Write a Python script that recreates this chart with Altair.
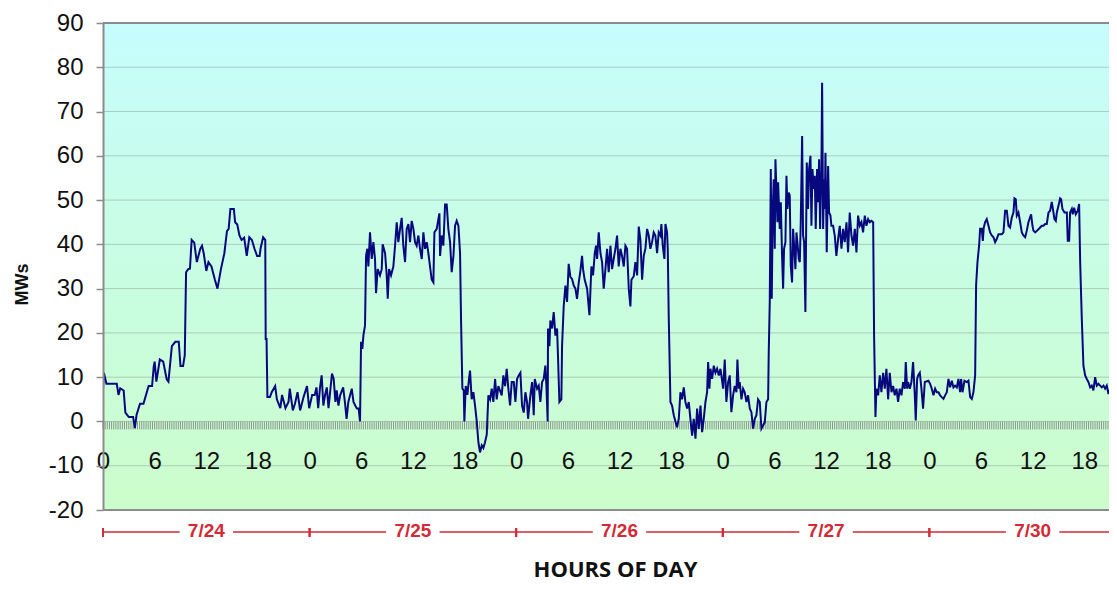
import altair as alt
import pandas as pd

# ---------------- data (hour since 7/24 00:00, MW) ----------------
hours_d1 = [0.0, 0.1, 0.4, 1.6, 1.8, 2.0, 2.4, 2.6, 2.8, 3.0, 3.5, 3.7, 3.9, 4.3, 4.7, 5.3, 5.7, 5.9, 6.0, 6.2,
            6.6, 7.0, 7.4, 7.6, 8.0, 8.4, 8.8, 9.0, 9.3, 9.5, 9.65, 9.9, 10.1, 10.3, 10.6, 10.9, 11.3, 11.5, 11.7,
            12.0, 12.25, 12.6, 13.0, 13.3, 13.7, 14.1, 14.4, 14.6, 14.8, 15.2, 15.35, 15.6, 15.85, 16.1, 16.4,
            16.7, 17.0, 17.3, 17.6, 17.9, 18.2, 18.3, 18.6, 18.85, 18.9, 19.0, 19.1, 19.4, 19.6, 20.0, 20.2, 20.6,
            20.8, 21.2, 21.55, 21.7, 22.05, 22.3, 22.6, 22.9, 23.3, 23.7, 23.95, 24.3]
mw_d1 = [7, 11, 8.5, 8.5, 6, 7.5, 7, 2, 1.5, 1, 1, -1.5, 1.5, 4, 4, 8, 8, 12.5, 13.5, 9,
         14, 13.5, 9.5, 9, 17, 18, 18, 12.5, 12.5, 15, 33.7, 34.4, 34.5, 41, 40.4, 36, 39, 39.7, 38,
         34, 36, 35, 32, 30, 34.4, 38, 43, 43.5, 48, 48, 45, 44.5, 42, 41, 41.5,
         37.4, 41.6, 41, 39, 37.4, 37.4, 39, 41.6, 41, 18.6, 18.6, 5.5, 5.5, 6.6, 8, 5, 3,
         6, 3, 4.4, 7.4, 2.5, 4, 6.6, 2.5, 5.5, 8, 3, 6]

hours_d2 = [24.6, 24.8, 25.0, 25.2, 25.4, 25.6, 25.8, 26.0, 26.2, 26.6, 26.8, 27.0, 27.15, 27.35, 27.55, 27.9,
            28.1, 28.3, 28.5, 28.9, 29.1, 29.3, 29.5, 29.7, 29.86, 29.98, 30.13, 30.25, 30.44, 30.56, 30.71,
            30.83, 31.02, 31.22, 31.41, 31.6, 31.72, 31.91, 32.18, 32.38, 32.49, 32.77, 32.96, 33.08, 33.23,
            33.46, 33.73, 33.93, 34.12, 34.31, 34.51, 34.7, 34.89, 35.09, 35.28, 35.48, 35.67, 35.86, 36.06,
            36.25, 36.44, 36.64, 36.83, 37.03, 37.22, 37.41, 37.61, 37.8, 37.99, 38.19, 38.38, 38.5, 38.77,
            38.96, 39.08, 39.16, 39.35, 39.54, 39.74, 39.93, 40.12, 40.32, 40.51, 40.71, 40.9, 41.09, 41.29,
            41.48, 41.6, 41.75, 41.91, 41.98, 42.14, 42.33, 42.52, 42.64, 42.83, 43.03, 43.22, 43.42, 43.61,
            43.8, 44.0, 44.19, 44.38, 44.58, 44.77, 44.97, 45.16, 45.35, 45.55, 45.74, 45.93, 46.32, 46.51,
            46.71, 46.9, 47.09, 47.29, 47.48]
mw_d2 = [6, 7.7, 3, 7.4, 10.4, 3.6, 6, 7.7, 3, 10.8, 9.6, 4.4, 7, 3.6, 5.9, 7.7,
         4.4, 0.6, 4.4, 7.4, 4.4, 3.6, 2.9, 2.9, 0, 18, 16.4, 19.4, 21.7, 37.4, 39,
         35, 42.7, 36.7, 40.5, 36.7, 29, 34.4, 33, 34.4, 40, 38, 33, 27.7, 34.4,
         33, 35, 39.7, 45, 40.5, 43.5, 46, 39.7, 36, 43.5, 44.6, 40.5, 45.3, 43.5,
         40.5, 39.7, 42, 39, 36.7, 42.7, 39, 40.5, 38, 35, 32, 31.4, 42.7, 43.5,
         45.7, 47, 37.4, 42, 39.7, 49, 49, 43.5, 40.5, 33.7, 37.4, 44.2, 45.3, 44.2,
         38, 22.4, 7.4, 7, 0, 8, 6, 9.6, 11.5, 5, 6.6, 3.6, 0, -4.7,
         -7, -5.4, -6, -4.7, -3, 5.9, 5, 7.4, 4.4, 9.6, 5, 8, 5.9, 10.4,
         8, 11.9, 7.4, 3.6, 8.9]

hours_d3 = [47.72, 47.91, 48.1, 48.3, 48.49, 48.68, 48.88, 49.07, 49.26, 49.38, 49.65, 49.85, 50.04, 50.16,
            50.43, 50.62, 50.81, 51.01, 51.2, 51.39, 51.51, 51.66, 51.7, 51.86, 51.97, 52.17, 52.36, 52.56,
            52.75, 52.87, 53.02, 53.25, 53.33, 53.52, 53.72, 53.91, 54.1, 54.3, 54.49, 54.69, 54.88, 55.07,
            55.27, 55.46, 55.65, 55.77, 55.96, 56.24, 56.51, 56.74, 56.93, 57.13, 57.28, 57.4, 57.59, 57.79,
            57.98, 58.17, 58.37, 58.56, 58.75, 58.95, 59.14, 59.33, 59.53, 59.72, 59.91, 60.11, 60.3, 60.5,
            60.69, 60.88, 61.08, 61.27, 61.39, 61.66, 61.85, 62.05, 62.24, 62.43, 62.63, 62.82, 63.01, 63.21,
            63.4, 63.59, 63.79, 63.98, 64.17, 64.37, 64.56, 64.76, 64.87, 65.03, 65.22, 65.34, 65.53, 65.61,
            65.72, 65.92, 66.11, 66.31, 66.5, 66.69, 66.89, 67.08, 67.27, 67.47, 67.66, 67.86, 68.05, 68.24,
            68.44, 68.63, 68.83, 69.02, 69.21, 69.41, 69.6, 69.79, 69.99, 70.18, 70.3, 70.45, 70.57, 70.76,
            70.96, 71.15, 71.34, 71.54, 71.73]
mw_d3 = [8.9, 4.4, 9.6, 10.4, 11, 3.6, 2, 6.6, 4.4, 0.6, 5.9, 8.9, 1.4, 9.6,
         7.4, 8.1, 4.4, 8.9, 9.6, 12.6, 8.1, 0, 21, 17, 22.8, 21, 24.7, 19.4,
         21, 14, 4.4, 5, 17, 26, 30.7, 27, 35.6, 32.6, 32.2, 30.7, 30, 27.7,
         31.4, 34, 37.4, 34.4, 32, 30, 24, 35, 33, 38, 39.7, 36.7, 42.7, 38,
         36, 30, 34.4, 39, 33.7, 39.7, 34.4, 36.7, 39, 42, 35, 39, 37.4, 35,
         39.7, 39, 30, 26, 32, 32.8, 36, 33, 44, 41, 32, 37.4, 39, 43.5,
         42, 39, 40.5, 42.7, 42, 38, 42.7, 42, 44.6, 39.7, 36.7, 44.6, 42.7, 39,
         24, 4.4, 3.6, 1.4, 0, -1.3, 0.6, 6.6, 5, 7.7, 4.4, 2.9, 4.4, 0.6,
         -3.2, 0.6, -3.9, 2.9, -1.7, 3.6, -2.4, 0.6, 4.4, 6.6, 13.4, 7.4, 11.9, 9.6,
         12.6, 11, 11.9, 10.4, 11.9]

hours_d4 = [71.84, 72.04, 72.23, 72.42, 72.62, 72.81, 73.0, 73.2, 73.39, 73.59, 73.7, 73.86, 73.97, 74.17,
            74.36, 74.55, 74.75, 74.94, 75.14, 75.33, 75.52, 75.72, 75.91, 76.1, 76.3, 76.49, 76.68, 76.88,
            77.07, 77.27, 77.34, 77.46, 77.58, 77.69, 77.81, 77.92, 78.04, 78.12, 78.23, 78.35, 78.43, 78.62,
            78.74, 78.89, 79.01, 79.12, 79.28, 79.4, 79.51, 79.67, 79.78, 79.9, 80.05, 80.17, 80.29, 80.44,
            80.56, 80.67, 80.83, 80.95, 81.06, 81.22, 81.33, 81.45, 81.6, 81.76, 81.91, 82.03, 82.19, 82.3,
            82.42, 82.57, 82.69, 82.8, 82.96, 83.08, 83.19, 83.31, 83.46, 83.54, 83.66, 83.77, 83.85, 83.93,
            84.08, 84.24, 84.35, 84.51, 84.62, 84.82, 85.01, 85.2, 85.4, 85.59, 85.79, 85.98, 86.17, 86.37,
            86.56, 86.75, 86.95, 87.14, 87.34, 87.53, 87.72, 87.92, 88.11, 88.3, 88.5, 88.69, 88.89, 89.08,
            89.27, 89.47, 89.58, 89.74, 89.85, 90.05, 90.24, 90.43, 90.63, 90.82, 91.01, 91.21, 91.4, 91.6,
            91.79, 91.98, 92.18, 92.37, 92.56, 92.76, 92.95, 93.15, 93.26, 93.42, 93.53, 93.73, 93.92, 94.11,
            94.31, 94.42, 94.58, 94.69, 94.89, 95.08, 95.27, 95.47]
mw_d4 = [10.4, 7.4, 14, 4.4, 8.9, 10.4, 2.1, 5.9, 8, 6.6, 14, 7.4, 8.9, 5,
         7.4, 6.6, 4.4, 5.9, 2.9, 2.1, -1.6, 0.6, 1.4, 5, 4.4, -1.6, -0.9, -0.2,
         4.4, 5, 15.6, 27, 57, 27.7, 48, 54.7, 39, 59.2, 52.5, 45, 54, 43.5,
         49.5, 37.4, 30, 39, 40.5, 55.5, 48, 51.7, 51, 35.2, 31.4, 43.5, 39.7, 34.4,
         42.7, 40.5, 36.7, 36, 45, 64.5, 42, 40.5, 24.7, 58.5, 48, 57, 60, 44.2,
         57, 52.5, 55.5, 43.5, 57, 49.5, 59.2, 43.5, 57, 76.5, 43.5, 54.7, 48, 60.7,
         38.2, 57.7, 47.2, 46.5, 44.2, 44.2, 42, 37.4, 41.2, 44.2, 39, 43.5, 40.5, 45,
         38.2, 47.2, 42, 39.7, 43.5, 38.2, 46.5, 44.2, 45, 42.7, 46.5, 44.2, 45.7, 45,
         45.3, 45, 19.4, 1, 7.4, 5.9, 10.4, 6.6, 11, 7.4, 11.9, 5, 11, 6.6,
         8, 5.9, 7.4, 4.4, 7.4, 5.9, 8.9, 7.4, 13.4, 7.4, 8.9, 7.4, 8.9, 13.4,
         5.9, 0.2, 9.6, 10.4, 11, 7.4, 2.9, 8.9]

hours_d5 = [95.89, 96.09, 96.28, 96.48, 96.67, 96.86, 97.06, 97.25, 97.44, 97.64, 97.83, 98.03, 98.22, 98.41,
            98.61, 98.8, 98.99, 99.19, 99.38, 99.57, 99.69, 99.85, 100.08, 100.35, 100.54, 100.74, 100.93,
            101.12, 101.32, 101.43, 101.59, 101.78, 101.9, 102.09, 102.21, 102.32, 102.48, 102.67, 102.87,
            103.06, 103.25, 103.45, 103.64, 103.83, 104.03, 104.42, 104.61, 104.8, 105.0, 105.19, 105.38,
            105.58, 105.77, 105.89, 106.04, 106.16, 106.35, 106.55, 106.74, 106.93, 107.13, 107.32, 107.51,
            107.82, 107.98, 108.09, 108.29, 108.68, 108.87, 109.06, 109.26, 109.45, 109.64, 109.84, 110.03,
            110.22, 110.42, 110.53, 110.69, 110.81, 111.0, 111.19, 111.31, 111.46, 111.7, 111.97, 112.08,
            112.24, 112.35, 112.55, 112.66, 112.82, 113.01, 113.24, 113.4, 113.52, 113.71, 113.9, 114.1,
            114.29, 114.48, 114.68, 114.87, 115.06, 115.26, 115.45, 115.65, 115.84, 116.03, 116.23, 116.42,
            116.61, 116.81, 117.0, 117.19, 117.39, 117.58, 117.78]
mw_d5 = [9.2, 8.5, 7.4, 5.9, 7.4, 6.6, 6.6, 5.9, 5.5, 5.1, 5.9, 6.6, 9.6, 7.7,
         9.2, 7.7, 8.1, 7.7, 9.6, 6.6, 9.6, 6.6, 9.2, 8.9, 9.2, 5.5, 5.1,
         6.6, 10.4, 30.7, 36, 39.7, 43.5, 43.5, 40.8, 43.8, 45, 45.7, 44.2,
         42.7, 42, 41.6, 40.5, 41.2, 42.3, 42.3, 42.7, 47.6, 47.6, 44.2, 43.8,
         46.1, 47.2, 50.4, 50.2, 46.5, 47.2, 45, 42.7, 42, 41.6, 43.1, 45,
         46.8, 44.2, 43.1, 42.7, 43.4, 43.8, 44.2, 44.2, 44.6, 44.6, 47.2, 47.6,
         49.6, 47.2, 45.7, 45.3, 47.2, 48.7, 50.4, 50.2, 48, 47.2, 47.2, 40.8,
         40.8, 47.2, 48, 46.8, 48.3, 46.8, 47.6, 49.1, 36, 23.2, 12.6, 10.4,
         9.6, 8.9, 7.7, 8.1, 7, 10, 8.1, 8.5, 8.1, 7.7, 8.1, 7.4,
         8.1, 6.2, 7.4, 8.5, 8.9, 9.2, 11.9]

date_labels = ["7/24", "7/25", "7/26", "7/27", "7/30"]
y_ticks = [-20, -10, 0, 10, 20, 30, 40, 50, 60, 70, 80, 90]
border_values = [90, -20]

# ---------------- layout ----------------
W, H = 1006, 487
X_MAX = 116.87
Y_MIN, Y_MAX = -20, 90
AXIS_OFFSET = -H * (0 - Y_MIN) / (Y_MAX - Y_MIN)   # category axis sits at MW = 0

hours = hours_d1 + hours_d2 + hours_d3 + hours_d4 + hours_d5
mw = mw_d1 + mw_d2 + mw_d3 + mw_d4 + mw_d5
df = pd.DataFrame({"h": hours, "mw": mw})

hour_label_ticks = list(range(0, int(X_MAX) + 1, 6))              # 0, 6, 12, 18 of every day
hatch_ticks = [i * 0.25 for i in range(int(X_MAX / 0.25) + 1)]   # category tick marks

x_scale = alt.Scale(domain=[0, X_MAX], nice=False, zero=False)
y_scale = alt.Scale(domain=[Y_MIN, Y_MAX], nice=False, zero=False)

FONT = "Liberation Sans"
RED = "#d22b36"

x_axis = alt.Axis(
    values=hour_label_ticks, labelExpr="toString(datum.value % 24)",
    offset=AXIS_OFFSET, domain=False, grid=False, ticks=True, tickSize=0,
    labelFontSize=24, labelFont=FONT, labelColor="#111111", labelPadding=28,
    labelOverlap=False, labelFlush=False, labelBound=False,
    title="HOURS OF DAY", titleFont="Open Sans", titleFontSize=22, titleFontWeight="bold",
    titleColor="#111111", titleX=512, titleY=155, titleBaseline="alphabetic",
    titleAlign="center", zindex=1)
y_axis = alt.Axis(
    values=y_ticks, labelExpr="toString(datum.value)", grid=False,
    tickSize=7, tickColor="#8c8c8c", tickWidth=1.5,
    domainColor="#8c8c8c", domainWidth=2,
    labelFontSize=24, labelFont=FONT, labelColor="#111111", labelPadding=13,
    title="MWs", titleFont=FONT, titleFontSize=18, titleFontWeight="bold",
    titleColor="#111111", titleX=-81, titleY=261, titleAngle=-90,
    titleBaseline="middle", titleAlign="center", zindex=1)

X = lambda f: alt.X(f, scale=x_scale, axis=x_axis)
Y = lambda f: alt.Y(f, scale=y_scale, axis=y_axis)

bg = alt.Chart(alt.Data(values=[{"a": 1}])).mark_rect(
    color=alt.Gradient(
        gradient="linear",
        stops=[alt.GradientStop(color="#c6fdfd", offset=0),
               alt.GradientStop(color="#c9fde0", offset=0.55),
               alt.GradientStop(color="#ccfdcc", offset=1)],
        x1=0, x2=0, y1=0, y2=1),
).encode(x=alt.value(0), x2=alt.value(W), y=alt.value(0), y2=alt.value(H))

grid = alt.Chart(pd.DataFrame({"mw": y_ticks})).mark_rule(
    color="#6a6a6a", opacity=0.33, strokeWidth=1
).encode(y=Y("mw:Q"), x=alt.value(0), x2=alt.value(W))

borders = alt.Chart(pd.DataFrame({"mw": border_values})).mark_rule(
    color="#8c8c8c", strokeWidth=2
).encode(y=Y("mw:Q"), x=alt.value(0), x2=alt.value(W))

hatch = alt.Chart(pd.DataFrame({"h": hatch_ticks})).mark_rule(
    color="#8a988a", strokeWidth=1
).encode(x=X("h:Q"), y=alt.datum(0, scale=y_scale), y2=alt.datum(-1.8))

line = alt.Chart(df).mark_line(color="#08087e", strokeWidth=2, clip=True).encode(
    x=X("h:Q"), y=Y("mw:Q"))

# ---------------- date band under the plot ----------------
GAP = 3.1
seg_rows, tick_rows, label_rows = [], [], []
for i, lab in enumerate(date_labels):
    start = 24 * i
    end = start + 24
    seg_rows.append({"h": start, "h2": start + 12 - GAP})
    seg_rows.append({"h": start + 12 + GAP, "h2": min(end, X_MAX)})
    tick_rows.append({"h": start})
    if end <= X_MAX:
        tick_rows.append({"h": end})
    label_rows.append({"h": start + 12, "label": lab})

segs = alt.Chart(pd.DataFrame(seg_rows)).mark_rule(color=RED, strokeWidth=1.6).encode(
    x=X("h:Q"), x2="h2:Q", y=alt.value(509))
ticks = alt.Chart(pd.DataFrame(tick_rows)).mark_rule(color=RED, strokeWidth=2).encode(
    x=X("h:Q"), y=alt.value(505), y2=alt.value(514))
labels = alt.Chart(pd.DataFrame(label_rows)).mark_text(
    color=RED, font=FONT, fontSize=19, fontWeight="bold", baseline="middle", align="center"
).encode(x=X("h:Q"), y=alt.value(508), text="label:N")

chart = alt.layer(bg, grid, borders, hatch, line, segs, ticks, labels).properties(
    width=W, height=H,
    padding={"left": 95, "top": 15, "right": 0, "bottom": 72},
    autosize=alt.AutoSizeParams(type="none"),
).configure_view(stroke=None).configure(background="white")

chart.save("out.html", embed_options={"renderer": "svg", "actions": False})
